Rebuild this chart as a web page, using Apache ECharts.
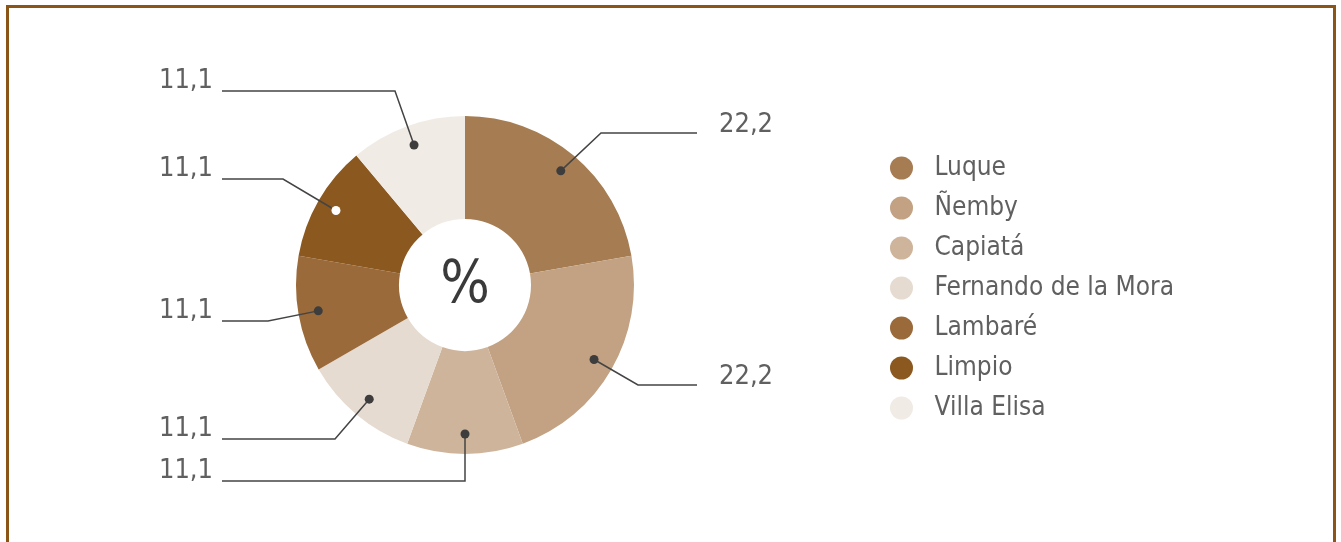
<!DOCTYPE html>
<html>
<head>
<meta charset="utf-8">
<script src="https://cdn.jsdelivr.net/npm/echarts@6/dist/echarts.min.js"></script>
<style>
  html, body { margin: 0; padding: 0; background: #fff; overflow: hidden; }
  #frame { position: absolute; left: 6px; top: 5px; width: 1324px; height: 600px; border: 3px solid #8B5517; }
  #chart { position: absolute; left: 0; top: 0; width: 1341px; height: 542px; }
</style>
</head>
<body>
<div id="frame"></div>
<div id="chart"></div>
<script>
// Share of each city (%)
const categories = ['Luque', 'Ñemby', 'Capiatá', 'Fernando de la Mora', 'Lambaré', 'Limpio', 'Villa Elisa'];
const shares = [22.2, 22.2, 11.1, 11.1, 11.1, 11.1, 11.1];

const sliceColors = ['#A67C52', '#C2A283', '#CEB49B', '#E6DBD0', '#9B6A3A', '#8B5920', '#F0EBE5'];
const FONT = '"Liberation Sans Narrow", "DejaVu Sans Condensed", Lato, sans-serif';
const TEXT = '#606060';
const LINE = '#444444';

const CX = 465, CY = 285, R_IN = 66, R_OUT = 169, R_DOT = 149;

// Where each callout label sits: side, y of the leader's horizontal run, x of its bend
const calloutSpots = [
  { side: 'right', y: 133, bendX: 601 },
  { side: 'right', y: 385, bendX: 638 },
  { side: 'left',  y: 481, bendX: null },
  { side: 'left',  y: 439, bendX: 335 },
  { side: 'left',  y: 321, bendX: 268 },
  { side: 'left',  y: 179, bendX: 283 },
  { side: 'left',  y: 91,  bendX: 395 }
];
const LEFT_END = 222, RIGHT_END = 697, LEFT_TEXT = 213, RIGHT_TEXT = 719;

// mid-angle of every slice, clockwise from 12 o'clock
const total = shares.reduce((a, b) => a + b, 0);
let acc = 0;
const midAngles = shares.map(v => { const m = (acc + v / 2) / total * 360; acc += v; return m; });
const dotPoint = i => {
  const a = midAngles[i] * Math.PI / 180;
  return [CX + R_DOT * Math.sin(a), CY - R_DOT * Math.cos(a)];
};
const fmt = v => v.toFixed(1).replace('.', ',');

const pieData = categories.map((name, i) => ({ name, value: shares[i], itemStyle: { color: sliceColors[i] } }));

const chart = echarts.init(document.getElementById('chart'), null, { renderer: 'canvas' });
chart.setOption({
  animation: false,
  backgroundColor: 'transparent',
  polar: { center: [CX, CY], radius: R_OUT },
  angleAxis: { type: 'value', min: 0, max: 360, startAngle: 90, clockwise: true, show: false },
  radiusAxis: { type: 'value', min: 0, max: R_OUT, show: false },
  legend: {
    orient: 'vertical',
    left: 885,
    top: 150,
    icon: 'circle',
    itemWidth: 56,
    itemHeight: 23,
    itemGap: 14,
    selectedMode: false,
    data: categories,
    textStyle: { fontFamily: FONT, fontSize: 26, color: TEXT }
  },
  graphic: [{
    type: 'text', x: CX, y: CY + 2, z: 10,
    style: { text: '%', fill: '#3a3a3a', font: '58px ' + FONT, align: 'center', verticalAlign: 'middle' }
  }],
  series: [
    {
      // the ring itself
      type: 'pie',
      center: [CX, CY],
      radius: [R_IN, R_OUT],
      startAngle: 90,
      clockwise: true,
      z: 2,
      emphasis: { disabled: true },
      label: { show: false },
      labelLine: { show: false },
      data: pieData
    },
    {
      // transparent copy on top carrying the callouts
      type: 'pie',
      center: [CX, CY],
      radius: [R_IN, R_OUT],
      startAngle: 90,
      clockwise: true,
      z: 4,
      silent: true,
      legendHoverLink: false,
      emphasis: { disabled: true },
      itemStyle: { color: 'rgba(0,0,0,0)' },
      data: categories.map((name, i) => ({ name: name + ' ', value: shares[i], itemStyle: { color: 'rgba(0,0,0,0)' } })),
      label: {
        show: true, position: 'outside',
        formatter: p => fmt(p.value),
        fontFamily: FONT, fontSize: 27, color: TEXT
      },
      labelLine: { show: true, length: 20, length2: 20, lineStyle: { color: LINE, width: 1.5 } },
      labelLayout: params => {
        const i = params.dataIndex;
        const s = calloutSpots[i];
        const d = dotPoint(i);
        const left = s.side === 'left';
        const end = left ? LEFT_END : RIGHT_END;
        const bend = [s.bendX == null ? d[0] : s.bendX, s.y];
        return {
          x: left ? LEFT_TEXT : RIGHT_TEXT,
          y: s.y - (left ? 10 : 8),
          align: left ? 'right' : 'left',
          verticalAlign: 'middle',
          labelLinePoints: [d, bend, [end, s.y]]
        };
      }
    },
    {
      type: 'scatter',
      coordinateSystem: 'polar',
      symbol: 'circle',
      symbolSize: 9,
      z: 6,
      silent: true,
      data: midAngles.map((m, i) => ({
        value: [R_DOT, m],
        itemStyle: { opacity: 1, color: sliceColors[i] === '#8B5920' ? '#ffffff' : '#3d3d3d' }
      }))
    }
  ]
});
</script>
</body>
</html>
